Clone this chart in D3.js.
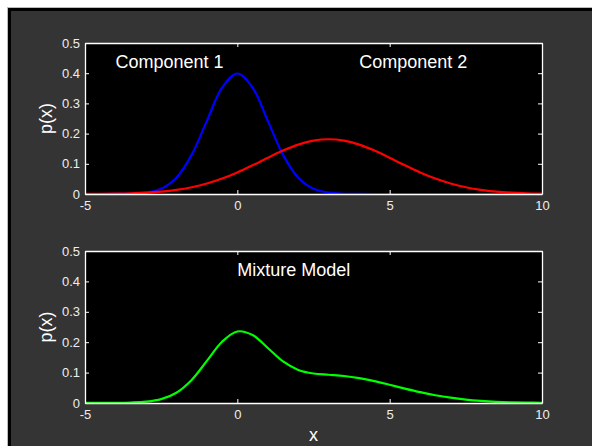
<!DOCTYPE html>
<html>
<head>
<meta charset="utf-8">
<script src="https://cdn.jsdelivr.net/npm/d3@7"></script>
<style>
  html, body { margin: 0; padding: 0; background: #fff; }
  svg { display: block; }
  .ax path, .ax line { stroke: #fff; }
  .ax text { fill: #eee; font-family: "Liberation Sans", Arial, sans-serif; font-size: 13px; }
</style>
</head>
<body>
<div id="chart"></div>
<script>
// sample positions read along the x axis
const xs = [-5, -4.5, -4, -3.5, -3, -2.5, -2, -1.5, -1, -0.5, 0, 0.5, 1, 1.5, 2, 2.5,
            3, 3.5, 4, 4.5, 5, 5.5, 6, 6.5, 7, 7.5, 8, 8.5, 9, 9.5, 10];
const component1 = [0, 0, 0.0001, 0.0009, 0.0044, 0.0175, 0.054, 0.1295, 0.242, 0.352, 0.399,
                    0.352, 0.242, 0.1295, 0.054, 0.0175, 0.0044, 0.0009, 0.0001, 0, 0,
                    0, 0, 0, 0, 0, 0, 0, 0, 0, 0];
const component2 = [0.0002, 0.0005, 0.0012, 0.0023, 0.0044, 0.008, 0.0137, 0.0224, 0.0347, 0.0511, 0.0715,
                    0.095, 0.1199, 0.1437, 0.1635, 0.1767, 0.1813, 0.1767, 0.1635, 0.1437, 0.1199,
                    0.095, 0.0715, 0.0511, 0.0347, 0.0224, 0.0137, 0.008, 0.0044, 0.0023, 0.0012];
const mixture = [0.0001, 0.0003, 0.0006, 0.0016, 0.0044, 0.0128, 0.0339, 0.076, 0.1384, 0.2016, 0.2353,
                 0.2235, 0.181, 0.1366, 0.1088, 0.0971, 0.0929, 0.0888, 0.0818, 0.0719, 0.06,
                 0.0475, 0.0358, 0.0256, 0.0174, 0.0112, 0.0069, 0.004, 0.0022, 0.0012, 0.0006];
const xTicks = [-5, 0, 5, 10];
const yTicks = [0, 0.1, 0.2, 0.3, 0.4, 0.5];
const topLabels = [{text: 'Component 1', x: -4, y: 0.437}, {text: 'Component 2', x: 4, y: 0.437}];
const bottomLabels = [{text: 'Mixture Model', x: 0, y: 0.437}];

const W = 592, H = 446;
const plotLeft = 85, plotRight = 542;
const panels = [
  {top: 43, bottom: 194, series: [[component1, '#0000ff'], [component2, '#ff0000']], labels: topLabels},
  {top: 251, bottom: 403, series: [[mixture, '#00ff00']], labels: bottomLabels}
];

let svg = d3.select('#chart').append('svg').attr('width', W).attr('height', H);

// figure frame
svg.append('rect').attr('width', W).attr('height', H).attr('fill', '#fff');
svg.append('rect').attr('x', 7).attr('y', 7).attr('width', W - 7).attr('height', H - 7).attr('fill', '#bbb');
svg.append('rect').attr('x', 8).attr('y', 8).attr('width', W - 8).attr('height', H - 8).attr('fill', '#000');
svg.append('rect').attr('x', 11).attr('y', 11).attr('width', W - 11).attr('height', H - 11).attr('fill', '#343434');

let x = d3.scaleLinear().domain([-5, 10]).range([plotLeft, plotRight]);

panels.forEach(function(panel) {
  let y = d3.scaleLinear().domain([0, 0.5]).range([panel.bottom, panel.top]);

  svg.append('rect')
    .attr('x', plotLeft).attr('y', panel.top)
    .attr('width', plotRight - plotLeft).attr('height', panel.bottom - panel.top)
    .attr('fill', '#000');

  let line = d3.line()
    .x(function(d, i) { return x(xs[i]); })
    .y(function(d) { return Math.min(y(d), panel.bottom); })
    .curve(d3.curveCatmullRom.alpha(0.5));

  panel.series.forEach(function(s) {
    svg.append('path').datum(s[0])
      .attr('d', line)
      .attr('fill', 'none')
      .attr('stroke', s[1])
      .attr('stroke-width', 2.2);
  });

  svg.append('g').attr('class', 'ax')
    .attr('transform', 'translate(0,' + panel.bottom + ')')
    .call(d3.axisBottom(x).tickValues(xTicks).tickSizeInner(-4).tickSizeOuter(0).tickPadding(7)
      .tickFormat(function(d) { return String(d); }));
  svg.append('g').attr('class', 'ax')
    .attr('transform', 'translate(0,' + panel.top + ')')
    .call(d3.axisTop(x).tickValues(xTicks).tickSizeInner(-4).tickSizeOuter(0).tickFormat(''));
  svg.append('g').attr('class', 'ax')
    .attr('transform', 'translate(' + plotLeft + ',0)')
    .call(d3.axisLeft(y).tickValues(yTicks).tickSizeInner(-4).tickSizeOuter(0).tickPadding(5)
      .tickFormat(function(d) { return d === 0 ? '0' : d3.format('.1f')(d); }));
  svg.append('g').attr('class', 'ax')
    .attr('transform', 'translate(' + plotRight + ',0)')
    .call(d3.axisRight(y).tickValues(yTicks).tickSizeInner(-4).tickSizeOuter(0).tickFormat(''));

  svg.selectAll('.ax .domain').attr('stroke-width', 1.3);

  panel.labels.forEach(function(l) {
    svg.append('text')
      .attr('x', x(l.x)).attr('y', y(l.y))
      .attr('dy', '0.35em')
      .attr('fill', '#fff')
      .attr('font-family', '"Liberation Sans", Arial, sans-serif')
      .attr('font-size', '18px')
      .text(l.text);
  });

  svg.append('text')
    .attr('transform', 'translate(52,' + ((panel.top + panel.bottom) / 2) + ') rotate(-90)')
    .attr('text-anchor', 'middle')
    .attr('fill', '#fff')
    .attr('font-family', '"Liberation Sans", Arial, sans-serif')
    .attr('font-size', '18px')
    .text('p(x)');
});

svg.append('text')
  .attr('x', (plotLeft + plotRight) / 2).attr('y', 441)
  .attr('text-anchor', 'middle')
  .attr('fill', '#fff')
  .attr('font-family', '"Liberation Sans", Arial, sans-serif')
  .attr('font-size', '18px')
  .text('x');
</script>
</body>
</html>
